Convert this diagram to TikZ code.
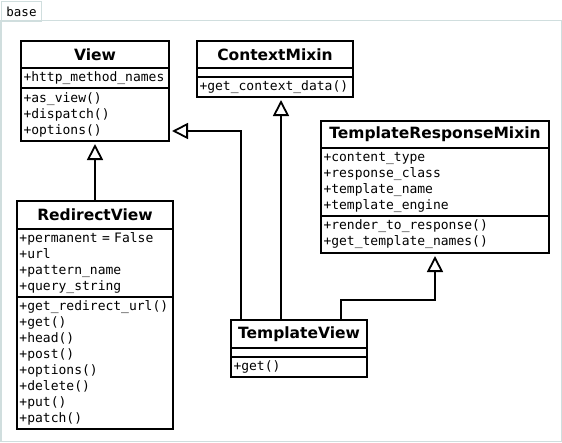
\documentclass[tikz,border=0pt]{standalone}
\usepackage{fontspec}
\setmainfont{DejaVu Sans}
\setmonofont{DejaVu Sans Mono}
\usetikzlibrary{positioning,arrows.meta}
\definecolor{framegray}{RGB}{208,222,222}

\begin{document}
\begin{tikzpicture}[x=1pt, y=-1pt,
	box/.style={draw, line width=1.8pt, outer sep=0pt, inner xsep=2.5pt, inner ysep=0pt},
	classname/.style={box, minimum width=#1, font=\bfseries\fontsize{15.5}{18}\selectfont},
	members/.style={box, text width=#1, align=left, font=\ttfamily\fontsize{13}{16}\selectfont},
	inherits/.style={line width=1.8pt, -{Triangle[open, length=16pt, width=16pt]}, shorten >=3pt},
	frame/.style={draw=framegray, line width=1.5pt}]
	\useasboundingbox (0,0) rectangle (562,442);
	% package frame
	\draw[frame] (0.75,20.5) rectangle (561.25,441.25);
	\node[frame, anchor=north west, minimum width=40pt, minimum height=20pt, inner sep=0pt,
		font=\ttfamily\fontsize{12.5}{14}\selectfont] (tab) at (0.75,0.75) {base};
	% View
	\node[classname=148pt, minimum height=27pt] (view) at (95,54.5) {View};
	\node[members=143pt, minimum height=20pt, below=0pt of view] (viewattr) {+http\_method\_names};
	\node[members=143pt, minimum height=53pt, below=0pt of viewattr] (viewops) {+as\_view()\\+dispatch()\\+options()};
	% ContextMixin
	\node[classname=156pt, minimum height=27pt] (cm) at (275,54.5) {ContextMixin};
	\node[members=151pt, minimum height=9pt, below=0pt of cm] (cmattr) {};
	\node[members=151pt, minimum height=20pt, below=0pt of cmattr] (cmops) {+get\_context\_data()};
	% TemplateResponseMixin
	\node[classname=228pt, minimum height=27pt] (trm) at (435,134.5) {TemplateResponseMixin};
	\node[members=223pt, minimum height=68pt, below=0pt of trm] (trmattr) {+content\_type\\+response\_class\\+template\_name\\+template\_engine};
	\node[members=223pt, minimum height=37pt, below=0pt of trmattr] (trmops) {+render\_to\_response()\\+get\_template\_names()};
	% RedirectView
	\node[classname=156pt, minimum height=28pt] (rv) at (95,215) {RedirectView};
	\node[members=151pt, minimum height=68pt, below=0pt of rv] (rvattr) {+permanent = False\\+url\\+pattern\_name\\+query\_string};
	\node[members=151pt, minimum height=132pt, below=0pt of rvattr] (rvops) {+get\_redirect\_url()\\+get()\\+head()\\+post()\\+options()\\+delete()\\+put()\\+patch()};
	% TemplateView
	\node[classname=136pt, minimum height=28pt] (tv) at (299,334) {TemplateView};
	\node[members=131pt, minimum height=9pt, below=0pt of tv] (tvattr) {};
	\node[members=131pt, minimum height=20pt, below=0pt of tvattr] (tvops) {+get()};
	% generalisations
	\coordinate (tvA) at ([xshift=10pt]tv.north west);
	\coordinate (tvB) at ([xshift=50pt]tv.north west);
	\coordinate (tvC) at ([xshift=110pt]tv.north west);
	\draw[inherits] (rv.north) -- (viewops.south);
	\draw[inherits] (tvA) |- ([yshift=10pt]viewops.south east);
	\draw[inherits] (tvB) -- (tvB |- cmops.south);
	\draw[inherits] (tvC) -- ++(0,-20) -| (trmops.south);
\end{tikzpicture}
\end{document}
